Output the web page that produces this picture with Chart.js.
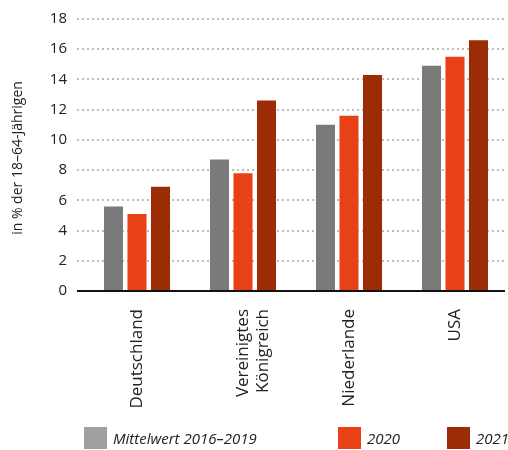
<!DOCTYPE html>
<html>
<head>
<meta charset="utf-8">
<script src="https://cdn.jsdelivr.net/npm/chart.js@4"></script>
<style>
    body { margin: 0; background: #fff; }
    #wrap { position: relative; width: 508px; height: 450px; }
    #legend { position: absolute; left: 0; top: 0; width: 508px; height: 450px; pointer-events: none;
              font-family: 'Open Sans', sans-serif; font-style: italic; font-size: 15px; color: #222; }
    .lg-box { position: absolute; top: 427px; width: 23px; height: 22px; }
    .lg-text { position: absolute; top: 428px; line-height: 20px; white-space: nowrap; }
</style>
</head>
<body>
<div id="wrap">
    <canvas id="chart" width="508" height="450"></canvas>
    <div id="legend"></div>
</div>
<script>
const categories = ['Deutschland', ['Vereinigtes', 'Königreich'], 'Niederlande', 'USA'];
const seriesNames = ['Mittelwert 2016–2019', '2020', '2021'];
const avg2016to2019 = [5.6, 8.7, 11.0, 14.9];
const values2020 = [5.1, 7.8, 11.6, 15.5];
const values2021 = [6.9, 12.6, 14.3, 16.6];
const yTicks = [0, 2, 4, 6, 8, 10, 12, 14, 16, 18];
const yTitle = 'in % der 18–64-Jährigen';

const barColors = ['#7a7a7a', '#e84115', '#9c2c05'];
const legendColors = ['#a0a0a0', '#e84115', '#9c2c05'];
const legendLeft = [84, 338, 447];

const fontFamily = "'Open Sans', sans-serif";

const ctx = document.getElementById('chart').getContext('2d');

const chart = new Chart(ctx, {
    type: 'bar',
    data: {
        labels: categories,
        datasets: [avg2016to2019, values2020, values2021].map((vals, i) => ({
            label: seriesNames[i],
            data: vals,
            backgroundColor: barColors[i],
            borderWidth: 0,
            categoryPercentage: 0.665,
            barPercentage: 0.81
        }))
    },
    options: {
        responsive: false,
        animation: false,
        layout: { padding: { top: 16, right: 0, bottom: 0, left: 0 } },
        plugins: {
            legend: { display: false },
            tooltip: { enabled: false }
        },
        scales: {
            x: {
                grid: { display: false },
                border: { display: false },
                ticks: {
                    color: '#222',
                    font: { family: fontFamily, size: 17 },
                    minRotation: 90,
                    maxRotation: 90,
                    padding: 10,
                    autoSkip: false
                },
                afterFit: scale => { scale.height = 159; }
            },
            y: {
                min: 0,
                max: 18,
                afterBuildTicks: scale => { scale.ticks = yTicks.map(v => ({ value: v })); },
                border: { display: false },
                grid: {
                    color: 'rgba(0,0,0,0)',
                    drawOnChartArea: false,
                    tickLength: 7,
                    tickColor: 'rgba(0,0,0,0)'
                },
                ticks: {
                    color: '#222',
                    font: { family: fontFamily, size: 15 },
                    padding: 10
                },
                afterFit: scale => { scale.width = 84; }
            }
        }
    },
    plugins: [{
        id: 'dottedGrid',
        beforeDatasetsDraw(chart) {
            const { ctx, chartArea, scales } = chart;
            ctx.save();
            ctx.strokeStyle = '#bdbdbd';
            ctx.lineWidth = 2;
            ctx.setLineDash([2, 3]);
            scales.y.ticks.forEach(t => {
                if (t.value === 0) return;
                const y = Math.round(scales.y.getPixelForValue(t.value));
                ctx.beginPath();
                ctx.moveTo(chartArea.left - 7, y);
                ctx.lineTo(chartArea.right - 3, y);
                ctx.stroke();
            });
            ctx.restore();
        },
        afterDatasetsDraw(chart) {
            const { ctx, chartArea, scales } = chart;
            const y = scales.y.getPixelForValue(0);
            ctx.save();
            // baseline
            ctx.strokeStyle = '#111';
            ctx.lineWidth = 2;
            ctx.beginPath();
            ctx.moveTo(chartArea.left - 7, y);
            ctx.lineTo(chartArea.right - 3, y);
            ctx.stroke();
            // y axis title
            ctx.translate(18, 158);
            ctx.rotate(-Math.PI / 2);
            ctx.fillStyle = '#222';
            ctx.font = '14px ' + fontFamily;
            ctx.textAlign = 'center';
            ctx.textBaseline = 'middle';
            ctx.fillText(yTitle, 0, 0);
            ctx.restore();
        }
    }]
});

// html legend
const legend = document.getElementById('legend');
seriesNames.forEach((name, i) => {
    const box = document.createElement('div');
    box.className = 'lg-box';
    box.style.left = legendLeft[i] + 'px';
    box.style.background = legendColors[i];
    const txt = document.createElement('div');
    txt.className = 'lg-text';
    txt.style.left = (legendLeft[i] + 29) + 'px';
    txt.textContent = name;
    legend.appendChild(box);
    legend.appendChild(txt);
});
</script>
</body>
</html>
